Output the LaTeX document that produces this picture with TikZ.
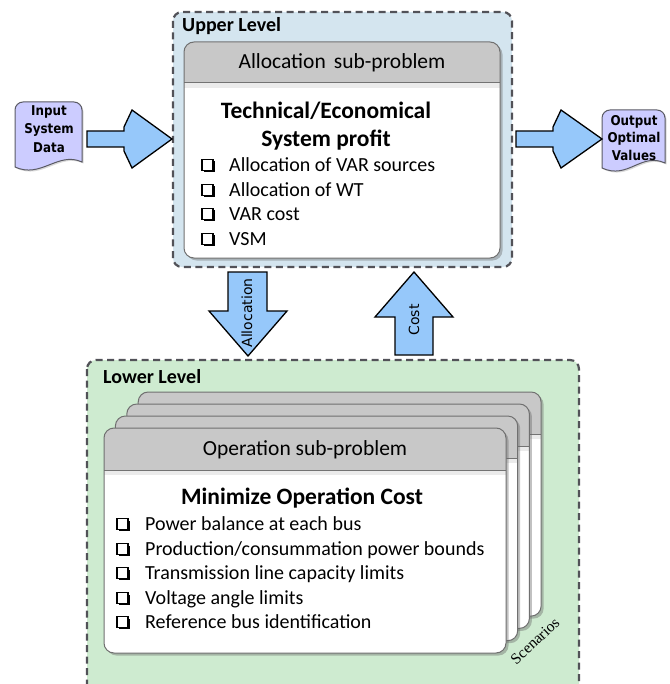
\documentclass[tikz,border=0pt]{standalone}
\usepackage{fontspec}
\setmainfont{Carlito}
\newfontfamily\dvsans{DejaVu Sans}
\newfontfamily\dvcond{DejaVu Sans}[FakeStretch=0.88]
\newfontfamily\tmserif{Liberation Serif}
\usetikzlibrary{shadows}

\definecolor{upperfill}{RGB}{212,229,239}
\definecolor{lowerfill}{RGB}{206,235,208}
\definecolor{dashgray}{RGB}{82,82,88}
\definecolor{headgray}{RGB}{200,200,200}
\definecolor{cardedge}{RGB}{112,112,112}
\definecolor{arrowblue}{RGB}{150,200,250}
\definecolor{lavender}{RGB}{204,204,255}
\definecolor{docedge}{RGB}{90,90,100}

\newcommand\fsz[2]{\fontsize{#1}{#2}\selectfont}

\tikzset{
  levelbox/.style={draw=dashgray, line width=2.2pt, dash pattern=on 7pt off 4.5pt, rounded corners=9pt},
  cardbody/.style={fill=white, drop shadow={shadow xshift=2.5pt, shadow yshift=-2.5pt, opacity=0.4, fill=black!60}},
  cardline/.style={draw=cardedge, line width=1pt},
  sepline/.style={draw=black!55, line width=1pt},
  blockarrow/.style={draw=black, line width=1.3pt, fill=arrowblue, line join=miter},
  docshape/.style={draw=docedge, line width=1pt, fill=lavender},
  levellabel/.style={anchor=base west, inner sep=0pt, font=\bfseries\fsz{20}{24}},
  headtext/.style={anchor=base, inner sep=0pt, font=\fsz{21.5}{26}},
  titletext/.style={anchor=base, inner sep=0pt, font=\bfseries\fsz{23.5}{28}},
  itemtext/.style={anchor=base west, inner sep=0pt, font=\fsz{20}{24}},
  arrowtext/.style={rotate=90, inner sep=0pt, font=\dvsans\fsz{14}{16}},
  doctext/.style={align=center, inner sep=0pt, font=\dvcond\bfseries\fsz{13.5}{#1}},
}

% card with grey rounded header: x0 y0 x1 y1 yheader
\newcommand\subcard[5]{%
  \path[cardbody, rounded corners=10pt] (#1,#2) rectangle (#3,#4);
  \begin{scope}
    \clip[rounded corners=10pt] (#1,#2) rectangle (#3,#4);
    \fill[headgray] (#1,#2) rectangle (#3,#5);
    \fill[black!8] (#1,#5) rectangle (#3,{#5+5});
    \draw[sepline] (#1,#5) -- (#3,#5);
  \end{scope}
  \draw[cardline, rounded corners=10pt] (#1,#2) rectangle (#3,#4);
}

% square bullet with a shadow, centred at (x+5.5,y)
\newcommand\chkbox[2]{%
  \fill[black] ({#1+2},{#2-3.5}) rectangle ({#1+12.8},{#2+7.3});
  \filldraw[fill=white, draw=black, line width=1.1pt] (#1,{#2-5.5}) rectangle ({#1+11},{#2+5.5});
}

% document shape with a wavy bottom: left top right bottom
\newcommand\docpath[4]{%
  (#1,{#4-4}) -- (#1,{#2+8}) .. controls (#1,{#2+3.6}) and ({#1+3.6},#2) .. ({#1+8},#2)
  -- ({#3-8},#2) .. controls ({#3-3.6},#2) and (#3,{#2+3.6}) .. (#3,{#2+8})
  -- (#3,{#4-9}) .. controls ({#3-24},{#4-20}) and ({#1+26},{#4+8}) .. (#1,{#4-4}) -- cycle
}

\begin{document}
\begin{tikzpicture}[x=1pt, y=-1pt]
\useasboundingbox (0,0) rectangle (669,684);
\clip (0,0) rectangle (669,684);

% ---------- upper level ----------
\draw[levelbox, fill=upperfill] (173,12) rectangle (512,267);
\node[levellabel] (upperlbl) at (182,31.5) {Upper Level};

\subcard{184}{42}{500}{258}{83}
\node[headtext] (allochead) at (342,69) {Allocation\hspace{0.15em} sub-problem};
\node[titletext] (alloctitleA) at (326,118.5) {Technical/Economical};
\node[titletext] (alloctitleB) at (326,146.5) {System profit};
\foreach \yy in {165,190,214,239} {\chkbox{202}{\yy}}
\node[itemtext] (ua) at (229,171.5) {Allocation of VAR sources};
\node[itemtext] (ub) at (229,196.5) {Allocation of WT};
\node[itemtext] (uc) at (229,220.5) {VAR cost};
\node[itemtext] (ud) at (229,245.5) {VSM};

% ---------- input and output ----------
\path[docshape, drop shadow={shadow xshift=1.5pt, shadow yshift=-1.5pt, opacity=0.3}] \docpath{15}{102}{82}{171};
\node[doctext=18.5] (indata) at (49,129) {Input\\System\\Data};
\path[docshape, drop shadow={shadow xshift=1.5pt, shadow yshift=-1.5pt, opacity=0.3}] \docpath{602}{110}{665}{172};
\node[doctext=17.5] (outdata) at (634,138) {Output\\Optimal\\Values};

\path[blockarrow] (87,131) -- (124,131) -- (124,127) -- (132,110) -- (172,139)
  -- (132,168) -- (124,151) -- (124,147) -- (87,147) -- cycle;
\path[blockarrow] (516,131) -- (553,131) -- (553,127) -- (561,110) -- (602,139)
  -- (561,168) -- (553,151) -- (553,147) -- (516,147) -- cycle;

% ---------- lower level ----------
\draw[levelbox, fill=lowerfill] (87,360) rectangle (579,720);
\node[levellabel] (lowerlbl) at (103,383.5) {Lower Level};

\foreach \k in {3,2,1} {
  \subcard{104+11.4*\k}{428-12*\k}{506+11.7*\k}{653-12.3*\k}{470-12*\k}
}
\subcard{104}{428}{506}{653}{470}
\node[headtext] (ophead) at (305,455) {Operation sub-problem};
\node[titletext] (optitle) at (302,504.5) {Minimize Operation Cost};
\foreach \yy in {524,549,573,598,622} {\chkbox{117}{\yy}}
\node[itemtext] (la) at (145,530.5) {Power balance at each bus};
\node[itemtext] (lb) at (145,555.5) {Production/consummation power bounds};
\node[itemtext] (lc) at (145,579.5) {Transmission line capacity limits};
\node[itemtext] (ld) at (145,604.5) {Voltage angle limits};
\node[itemtext] (le) at (145,628.5) {Reference bus identification};

\node[rotate=43, inner sep=0pt, font=\tmserif\fsz{15.5}{18}] (scen) at (535,641) {Scenarios};

% ---------- exchange between levels ----------
\path[blockarrow] (228,272) -- (267,272) -- (267,311) -- (287,311) -- (248,356)
  -- (209,311) -- (228,311) -- cycle;
\node[arrowtext] (alloctxt) at (247,313) {Allocation};
\path[blockarrow] (395,355) -- (433,355) -- (433,317) -- (453,317) -- (414,272)
  -- (375,317) -- (395,317) -- cycle;
\node[arrowtext] (costtxt) at (414,320) {Cost};

\end{tikzpicture}
\end{document}
